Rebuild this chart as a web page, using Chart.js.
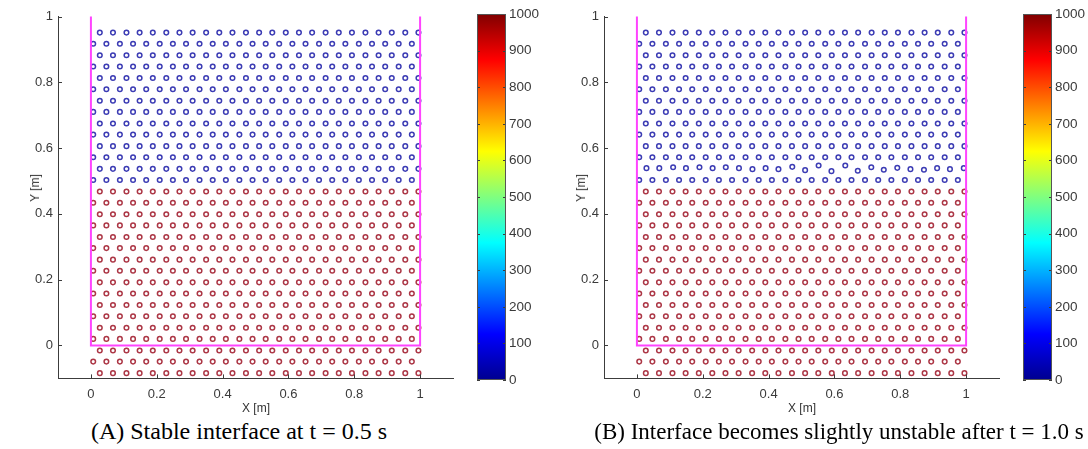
<!DOCTYPE html>
<html><head><meta charset="utf-8">
<script src="https://cdn.jsdelivr.net/npm/chart.js@4.4.0/dist/chart.umd.min.js"></script>
<style>
body{margin:0;background:#fff;width:1088px;height:449px;overflow:hidden;position:relative;font-family:"Liberation Sans",Arial,sans-serif;}
canvas{position:absolute;}
.cap{position:absolute;font-family:"Liberation Serif","Times New Roman",serif;color:#000;white-space:nowrap;transform:translateX(-50%);}
.ax{position:absolute;font-size:12px;line-height:12px;color:#333;white-space:nowrap;transform:translate(-50%,-50%);}
.ay{position:absolute;font-size:12px;line-height:12px;color:#333;white-space:nowrap;transform:translate(-50%,-50%) rotate(-90deg);}
</style></head><body>
<canvas id="cA" width="470" height="410" style="left:0;top:0"></canvas>
<canvas id="bA" width="80" height="410" style="left:470px;top:0"></canvas>
<canvas id="cB" width="470" height="410" style="left:546px;top:0"></canvas>
<canvas id="bB" width="72" height="410" style="left:1016px;top:0"></canvas>
<div class="ay" style="left:35px;top:188px">Y [m]</div>
<div class="ay" style="left:581px;top:188px">Y [m]</div>
<div class="ax" style="left:256px;top:408px">X [m]</div>
<div class="ax" style="left:802px;top:408px">X [m]</div>
<div class="cap" style="left:239px;top:419px;font-size:24px;line-height:24px">(A) Stable interface at t = 0.5 s</div>
<div class="cap" style="left:839px;top:420px;font-size:23px;line-height:23px">(B) Interface becomes slightly unstable after t = 1.0 s</div>
<script>
// ---- data ----
const xTicks = [0, 0.2, 0.4, 0.6, 0.8, 1];
const xTickLabels = ['0', '0.2', '0.4', '0.6', '0.8', '1'];
const yTicks = [0, 0.2, 0.4, 0.6, 0.8, 1];
const yTickLabels = ['0', '0.2', '0.4', '0.6', '0.8', '1'];
const cbTicks = [0, 100, 200, 300, 400, 500, 600, 700, 800, 900, 1000];
const cbTickLabels = ['0', '100', '200', '300', '400', '500', '600', '700', '800', '900', '1000'];
// wall (magenta) polyline
const wallX = [0, 0, 1, 1];
const wallY = [1, 0, 0, 1];
// particle columns (even rows / odd rows)
const colXEven = [0.027,0.067,0.108,0.148,0.188,0.229,0.269,0.309,0.350,0.390,0.430,0.471,0.511,0.551,0.592,0.632,0.672,0.713,0.753,0.793,0.834,0.874,0.914,0.955,0.995];
const colXOdd  = [0.007,0.047,0.088,0.128,0.168,0.209,0.249,0.289,0.330,0.370,0.410,0.451,0.491,0.531,0.572,0.612,0.652,0.693,0.733,0.773,0.814,0.854,0.894,0.935,0.975];
// particle rows (top to bottom)
const blueRowsY = [0.951,0.917,0.882,0.848,0.813,0.779,0.744,0.710,0.675,0.641,0.606,0.572,0.537,0.503];
const redRowsY  = [0.468,0.434,0.399,0.365,0.330,0.296,0.261,0.227,0.192,0.158,0.123,0.089,0.054,0.020,-0.015,-0.049,-0.084];
// panel B: the disturbed blue row just above the interface (row index 12)
const disturbedRowIndex = 12;
const disturbedX = [0.029,0.068,0.110,0.149,0.190,0.230,0.270,0.310,0.351,0.391,0.430,0.472,0.511,0.552,0.591,0.633,0.671,0.712,0.750,0.791,0.831,0.872,0.912,0.951,0.993];
const disturbedY = [0.539,0.539,0.542,0.539,0.542,0.539,0.542,0.539,0.536,0.539,0.536,0.543,0.533,0.547,0.530,0.547,0.531,0.542,0.534,0.540,0.536,0.534,0.539,0.536,0.539];
const densityLight = 0, densityHeavy = 1000;

// ---- build point lists ----
function rowPts(y, rowIdx){
  const xs = rowIdx % 2 === 0 ? colXEven : colXOdd;
  return xs.map(x => ({x, y}));
}
function buildPts(disturbed){
  const blue = [], red = [];
  blueRowsY.forEach((y, i) => {
    if (disturbed && i === disturbedRowIndex) {
      disturbedX.forEach((x, k) => blue.push({x, y: disturbedY[k]}));
    } else blue.push(...rowPts(y, i));
  });
  redRowsY.forEach((y, j) => red.push(...rowPts(y, j + blueRowsY.length)));
  return {blue, red};
}

const jetStops = [[0,'#00008f'],[0.125,'#0000ff'],[0.375,'#00ffff'],[0.625,'#ffff00'],[0.875,'#ff0000'],[1,'#800000']];
const blueCol = 'rgb(60,60,180)';
const redCol = 'rgb(172,55,70)';
const axisCol = '#3c3c3c';

const inTicks = {
  id: 'inTicks',
  afterDraw(chart, args, opts){
    const ctx = chart.ctx; ctx.save();
    ctx.strokeStyle = axisCol; ctx.lineWidth = 1;
    const L = opts.len || 4;
    if (opts.mode === 'main') {
      const xs = chart.scales.x, ys = chart.scales.y, a = chart.chartArea;
      xs.ticks.forEach(t => { const p = Math.round(xs.getPixelForValue(t.value)) + 0.5;
        ctx.beginPath(); ctx.moveTo(p, a.bottom); ctx.lineTo(p, a.bottom - L); ctx.stroke(); });
      ys.ticks.forEach(t => { const p = Math.round(ys.getPixelForValue(t.value)) + 0.5;
        ctx.beginPath(); ctx.moveTo(a.left, p); ctx.lineTo(a.left + L, p); ctx.stroke(); });
    } else {
      const ys = chart.scales.y, a = chart.chartArea;
      ys.ticks.forEach(t => { const p = Math.round(ys.getPixelForValue(t.value)) + 0.5;
        ctx.beginPath(); ctx.moveTo(a.left, p); ctx.lineTo(a.left + L, p);
        ctx.moveTo(a.right, p); ctx.lineTo(a.right - L, p); ctx.stroke(); });
      ctx.strokeStyle = '#555';
      ctx.strokeRect(Math.round(a.left) + 0.5, Math.round(a.top) + 0.5, Math.round(a.right - a.left) - 1, Math.round(a.bottom - a.top) - 1);
    }
    ctx.restore();
  }
};

Chart.defaults.font.family = '"Liberation Sans", Arial, sans-serif';

function mainChart(id, disturbed){
  const pts = buildPts(disturbed);
  return new Chart(document.getElementById(id), {
    type: 'scatter',
    data: { datasets: [
      { data: wallX.map((x, i) => ({x, y: wallY[i]})), showLine: true, borderColor: '#ff44ff', borderWidth: 2,
        pointRadius: 0, fill: false, tension: 0, clip: false, order: 0 },
      { data: pts.blue, pointStyle: 'circle', pointRadius: 2.3, borderWidth: 1.5, borderColor: blueCol,
        backgroundColor: 'rgba(255,255,255,0)', order: 1 },
      { data: pts.red, pointStyle: 'circle', pointRadius: 2.3, borderWidth: 1.5, borderColor: redCol,
        backgroundColor: 'rgba(255,255,255,0)', order: 1 }
    ]},
    options: {
      responsive: false, animation: false, events: [],
      layout: { padding: { left: 0, top: 16.5, right: 17, bottom: 0 } },
      plugins: { legend: { display: false }, tooltip: { enabled: false }, inTicks: { mode: 'main', len: 4 } },
      scales: {
        x: { type: 'linear', min: -0.1, max: 1.1,
          afterBuildTicks: s => { s.ticks = xTicks.map(v => ({value: v})); },
          afterFit: s => { s.height = 31.6; },
          grid: { display: false, drawTicks: false },
          border: { display: true, color: axisCol, width: 1 },
          ticks: { padding: 8, color: '#3a3a3a', font: { size: 13 }, maxRotation: 0,
            callback: (v, i) => xTickLabels[i] } },
        y: { type: 'linear', min: -0.1, max: 1,
          afterBuildTicks: s => { s.ticks = yTicks.map(v => ({value: v})); },
          afterFit: s => { s.width = 58; },
          grid: { display: false, drawTicks: false },
          border: { display: true, color: axisCol, width: 1 },
          ticks: { padding: 5, color: '#3a3a3a', font: { size: 13 },
            callback: (v, i) => yTickLabels[i] } }
      }
    },
    plugins: [inTicks]
  });
}

function colorbar(id, axisW){
  return new Chart(document.getElementById(id), {
    type: 'bar',
    data: { labels: [''], datasets: [{ data: [densityHeavy], base: densityLight, borderWidth: 0,
      barPercentage: 1, categoryPercentage: 1,
      backgroundColor: c => {
        const a = c.chart.chartArea; if (!a) return '#888';
        const g = c.chart.ctx.createLinearGradient(0, a.bottom, 0, a.top);
        jetStops.forEach(s => g.addColorStop(s[0], s[1]));
        return g;
      } }]},
    options: {
      responsive: false, animation: false, events: [],
      layout: { padding: { left: 7, top: 14, right: 0, bottom: 30 } },
      plugins: { legend: { display: false }, tooltip: { enabled: false }, inTicks: { mode: 'bar', len: 3 } },
      scales: {
        x: { display: false },
        y: { position: 'right', min: 0, max: 1000,
          afterBuildTicks: s => { s.ticks = cbTicks.map(v => ({value: v})); },
          afterFit: s => { s.width = axisW; },
          grid: { display: false, drawTicks: false },
          border: { display: false },
          ticks: { padding: 3, color: '#3a3a3a', font: { size: 13.5 },
            callback: (v, i) => cbTickLabels[i] } }
      }
    },
    plugins: [inTicks]
  });
}

mainChart('cA', false);
mainChart('cB', true);
colorbar('bA', 44);
colorbar('bB', 36);
</script>
</body></html>
